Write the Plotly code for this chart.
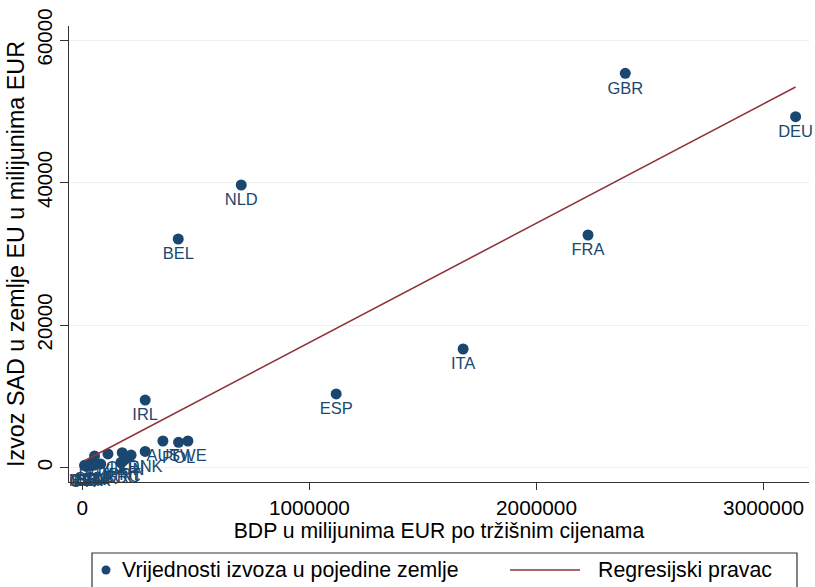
import numpy as np
import plotly.graph_objects as go

# GDP at market prices (million EUR) and US exports to each EU country (million EUR)
countries = ["GBR", "DEU", "FRA", "NLD", "BEL", "ITA", "ESP", "IRL", "AUT", "POL",
             "SWE", "DNK", "FIN", "PRT", "GRC", "CZE", "ROU", "HUN", "SVK", "LUX",
             "BGR", "HRV", "SVN", "LTU", "LVA", "EST", "CYP", "MLT"]
gdp = [2391000, 3141000, 2227000, 700000, 422500, 1677000, 1118000, 277000, 355000, 424000,
       465000, 277000, 215000, 186000, 176000, 176000, 170000, 113000, 81000, 54000,
       48000, 46000, 40000, 39000, 25000, 21000, 18000, 10000]
exports = [55330, 49240, 32630, 39650, 32070, 16630, 10320, 9470, 3720, 3540,
           3720, 2250, 1750, 1100, 800, 2080, 700, 1900, 500, 1600,
           300, 400, 550, 350, 200, 250, 150, 300]

x_ticks = [0, 1000000, 2000000, 3000000]
y_ticks = [0, 20000, 40000, 60000]

legend_labels = ["Vrijednosti izvoza u pojedine zemlje", "Regresijski pravac"]

NAVY = "#1a476f"
MAROON = "#90353b"
AXIS = "#333333"
GRID = "#e9f0f2"
FONT = "Arial, 'Liberation Sans', sans-serif"

# OLS fit, drawn across the observed GDP range
slope, intercept = np.polyfit(gdp, exports, 1)
x_fit = np.array([min(gdp), max(gdp)])
y_fit = intercept + slope * x_fit

fig = go.Figure()
fig.add_trace(go.Scatter(
    x=gdp, y=exports, mode="markers+text", text=countries,
    textposition="bottom center", cliponaxis=False,
    marker=dict(color=NAVY, size=11, line=dict(width=0)),
    textfont=dict(family=FONT, size=16.5, color=NAVY),
    name=legend_labels[0], showlegend=False,
))
fig.add_trace(go.Scatter(
    x=x_fit, y=y_fit, mode="lines",
    line=dict(color=MAROON, width=1.6),
    name=legend_labels[1], showlegend=False,
))

W, H = 815, 587
ML, MR, MT, MB = 69, 6, 26, 105
PW, PH = W - ML - MR, H - MT - MB


def px(xp):
    return (xp - ML) / PW


def py(yp):
    return (MT + PH - yp) / PH


# Legend box below the plot
shapes = [
    dict(type="rect", xref="paper", yref="paper",
         x0=px(92), x1=px(797), y0=py(553), y1=py(600),
         line=dict(color=AXIS, width=1.2), fillcolor="white", layer="above"),
    dict(type="circle", xref="paper", yref="paper",
         x0=px(101.5), x1=px(110.5), y0=py(574.5), y1=py(565.5),
         line=dict(width=0), fillcolor=NAVY),
    dict(type="line", xref="paper", yref="paper",
         x0=px(510), x1=px(580), y0=py(570), y1=py(570),
         line=dict(color=MAROON, width=1.6)),
]
annotations = [
    dict(xref="paper", yref="paper", x=px(120), y=py(570), text=legend_labels[0],
         showarrow=False, xanchor="left", yanchor="middle",
         font=dict(family=FONT, size=21.3, color="black")),
    dict(xref="paper", yref="paper", x=px(596), y=py(570), text=legend_labels[1],
         showarrow=False, xanchor="left", yanchor="middle",
         font=dict(family=FONT, size=21.3, color="black")),
]

fig.update_layout(
    width=W, height=H,
    margin=dict(l=ML, r=MR, t=MT, b=MB),
    paper_bgcolor="white", plot_bgcolor="white",
    font=dict(family=FONT, size=20, color="black"),
    shapes=shapes, annotations=annotations,
    showlegend=False,
)
fig.update_xaxes(
    range=[-58500, 3200000], tickvals=x_ticks, ticktext=[str(v) for v in x_ticks],
    showgrid=False, zeroline=False, showline=True, linecolor=AXIS, linewidth=1.3,
    ticks="outside", ticklen=7, tickcolor=AXIS, tickwidth=1.2,
    tickfont=dict(size=20.8), automargin=False,
    title=dict(text="BDP u milijunima EUR po tržišnim cijenama", font=dict(size=21.2), standoff=0),
)
fig.update_yaxes(
    range=[-2035, 61965], tickvals=y_ticks, ticktext=[str(v) for v in y_ticks],
    tickangle=-90, showgrid=True, gridcolor=GRID, gridwidth=1.2,
    zeroline=False, showline=True, linecolor=AXIS, linewidth=1.3,
    ticks="outside", ticklen=8, tickcolor=AXIS, tickwidth=1.2,
    tickfont=dict(size=20.5), automargin=False,
    title=dict(text="Izvoz SAD u zemlje EU u milijunima EUR", font=dict(size=23.3), standoff=1),
)

fig.write_html("out.html")
